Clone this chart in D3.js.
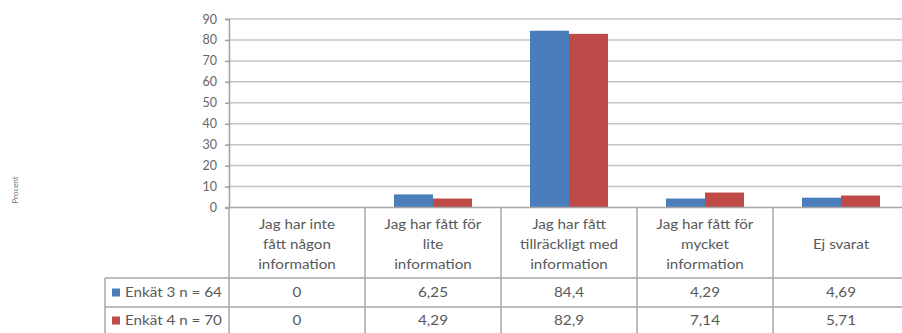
<!DOCTYPE html>
<html><head><meta charset="utf-8">
<script src="https://cdn.jsdelivr.net/npm/d3@7"></script>
<style>
html,body{margin:0;padding:0;background:#fff;}
svg{display:block;font-family:Lato,"Open Sans",sans-serif;}
</style></head>
<body>
<svg id="chart" width="902" height="333"></svg>
<script>
const categories = [
  ["Jag har inte", "fått någon", "information"],
  ["Jag har fått för", "lite", "information"],
  ["Jag har fått", "tillräckligt med", "information"],
  ["Jag har fått för", "mycket", "information"],
  ["Ej svarat"]
];
const seriesNames = ["Enkät 3 n = 64", "Enkät 4 n = 70"];
const enkat3 = [0, 6.25, 84.4, 4.29, 4.69];
const enkat4 = [0, 4.29, 82.9, 7.14, 5.71];
const seriesValues = [enkat3, enkat4];
const seriesColors = ["#4a7ebb", "#be4b48"];
const yTicks = [0, 10, 20, 30, 40, 50, 60, 70, 80, 90];
const yTitle = "Procent";

const svg = d3.select("#chart");
const plotLeft = 229, plotRight = 909, plotTop = 19, zeroY = 207.5;
const headerBottom = 278, row1Bottom = 307, row2Bottom = 336;
const legendLeft = 105;
const sx = 1.17; // horizontal stretch of the text in the reference

const x = d3.scaleBand().domain(d3.range(categories.length)).range([plotLeft, plotRight]).padding(0);
const inner = d3.scaleBand().domain(d3.range(seriesNames.length)).range([29, x.bandwidth() - 29]).padding(0);
const y = d3.scaleLinear().domain([0, 90]).range([zeroY, plotTop]);

function stretchedText(parent, tx, ty, str, anchor) {
  return parent.append("g").attr("transform", `translate(${tx},${ty}) scale(${sx},1)`)
    .append("text").attr("text-anchor", anchor || "middle").attr("fill", "#595959")
    .style("font-size", "13px").text(str);
}

// gridlines
svg.append("g").selectAll("line").data(yTicks.filter(t => t > 0)).join("line")
  .attr("x1", plotLeft).attr("x2", plotRight)
  .attr("y1", d => y(d)).attr("y2", d => y(d))
  .attr("stroke", "#c3c3c3").attr("stroke-width", 1.5);

// y axis
const yAxis = d3.axisLeft(y).tickValues(yTicks).tickSize(4).tickPadding(8);
const ga = svg.append("g").attr("transform", `translate(${plotLeft},0)`).call(yAxis);
ga.select(".domain").attr("stroke", "#a0a0a0").attr("stroke-width", 1.5);
ga.selectAll(".tick line").attr("stroke", "#a0a0a0").attr("stroke-width", 1.5);
ga.selectAll(".tick text").attr("fill", "#666").style("font-size", "12.5px").style("font-family", "Lato, sans-serif");

// bars
seriesValues.forEach((vals, si) => {
  svg.append("g").selectAll("rect").data(vals).join("rect")
    .attr("x", (d, i) => x(i) + inner(si))
    .attr("width", inner.bandwidth())
    .attr("y", d => y(d))
    .attr("height", d => zeroY - y(d))
    .attr("fill", seriesColors[si]);
});

// table lines
const tl = svg.append("g").attr("stroke", "#a6a6a6").attr("stroke-width", 1.5);
tl.append("line").attr("x1", plotLeft - 4).attr("x2", plotRight).attr("y1", zeroY).attr("y2", zeroY);
tl.append("line").attr("x1", plotLeft).attr("x2", plotLeft).attr("y1", zeroY).attr("y2", row2Bottom);
tl.selectAll(".vb").data(d3.range(1, categories.length)).join("line")
  .attr("x1", d => x(d)).attr("x2", d => x(d)).attr("y1", zeroY).attr("y2", row2Bottom);
[headerBottom, row1Bottom, row2Bottom].forEach(yy => {
  tl.append("line").attr("x1", legendLeft).attr("x2", plotRight).attr("y1", yy).attr("y2", yy);
});
tl.append("line").attr("x1", legendLeft).attr("x2", legendLeft).attr("y1", headerBottom).attr("y2", row2Bottom);

// category labels
const lineH = 20;
const headerMid = (zeroY + headerBottom) / 2;
const catG = svg.append("g");
categories.forEach((lines, i) => {
  const startY = headerMid - (lines.length - 1) * lineH / 2 + 6;
  lines.forEach((ln, j) => {
    stretchedText(catG, x(i) + x.bandwidth() / 2, startY + j * lineH, ln);
  });
});

// data rows
const rowMids = [(headerBottom + row1Bottom) / 2, (row1Bottom + row2Bottom) / 2 - 1];
seriesValues.forEach((vals, si) => {
  const g = svg.append("g");
  vals.forEach((d, i) => {
    stretchedText(g, x(i) + x.bandwidth() / 2, rowMids[si] + 4.5, String(d).replace(".", ","));
  });
  svg.append("rect").attr("x", legendLeft + 7).attr("y", rowMids[si] - 4)
    .attr("width", 8).attr("height", 8).attr("fill", seriesColors[si]);
  stretchedText(g, legendLeft + 20, rowMids[si] + 4.5, seriesNames[si], "start");
});

// y title
svg.append("text").attr("transform", `translate(18,190) rotate(-90)`)
  .attr("text-anchor", "middle").attr("fill", "#777").style("font-size", "8px").text(yTitle);
</script>
</body></html>
